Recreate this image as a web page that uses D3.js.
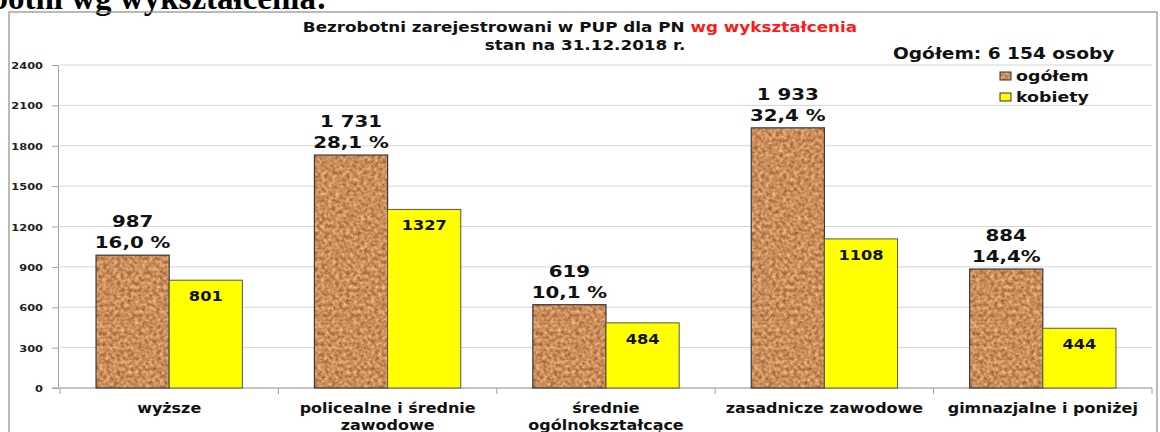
<!DOCTYPE html>
<html>
<head>
<meta charset="utf-8">
<script src="https://d3js.org/d3.v7.min.js"></script>
<style>
  body { margin: 0; background: #fff; }
  svg { display: block; }
</style>
</head>
<body>
<svg width=1160 height=432></svg>
<script>
// data
var categories = [["wyższe"], ["policealne i średnie", "zawodowe"], ["średnie", "ogólnokształcące"], ["zasadnicze zawodowe"], ["gimnazjalne i poniżej"]];
var ogolem = [987, 1731, 619, 1933, 884];
var kobiety = [801, 1327, 484, 1108, 444];
var ogolemLabels = ["987", "1 731", "619", "1 933", "884"];
var percentLabels = ["16,0 %", "28,1 %", "10,1 %", "32,4 %", "14,4%"];
var yTicks = [0, 300, 600, 900, 1200, 1500, 1800, 2100, 2400];
var seriesNames = ["ogółem", "kobiety"];

var svg = d3.select('svg');
var font = "'DejaVu Sans', Verdana, sans-serif";
var SX = 1.2; // the original picture is stretched sideways

// text helper: horizontally stretched text at (x, y)
function label(parent, x, y, size, anchor, txt) {
  return parent.append('text')
    .attr('transform', 'translate(' + x + ',' + y + ') scale(' + SX + ',1)')
    .attr('text-anchor', anchor)
    .style('font-family', font).style('font-weight', 'bold').style('font-size', size + 'px')
    .attr('fill', '#111')
    .text(txt);
}

// cork texture
var defs = svg.append('defs');
var f = defs.append('filter').attr('id', 'cork')
  .attr('x', 0).attr('y', 0).attr('width', 1).attr('height', 1)
  .attr('color-interpolation-filters', 'sRGB');
f.append('feTurbulence').attr('type', 'fractalNoise')
  .attr('baseFrequency', 0.28).attr('numOctaves', 3).attr('seed', 7).attr('result', 'noise');
f.append('feColorMatrix').attr('in', 'noise').attr('type', 'matrix')
  .attr('values', '0.55 0 0 0 0.52  0.55 0 0 0 0.28  0.45 0 0 0 0.13  0 0 0 0 1')
  .attr('result', 'col');
f.append('feComposite').attr('in', 'col').attr('in2', 'SourceGraphic').attr('operator', 'in');

// page heading cut off above the chart
svg.append('text')
  .attr('x', 327).attr('y', 9)
  .attr('text-anchor', 'end')
  .style('font-family', "'Liberation Serif', 'Times New Roman', serif")
  .style('font-weight', 'bold').style('font-size', '33px')
  .text('Bezrobotni wg wykształcenia:');

// chart frame
svg.append('rect')
  .attr('x', 9).attr('y', 12).attr('width', 1148).attr('height', 440)
  .attr('fill', 'none').attr('stroke', '#8c8c8c').attr('stroke-width', 1.2);

var x0 = d3.scaleBand().domain(d3.range(categories.length)).range([60, 1152]).paddingInner(0.33).paddingOuter(0.165);
var x1 = d3.scaleBand().domain([0, 1]).range([0, x0.bandwidth()]);
var y = d3.scaleLinear().domain([0, 2400]).range([388, 65]);

// gridlines
svg.append('g').selectAll('line').data(yTicks).enter().append('line')
  .attr('x1', 60).attr('x2', 1152)
  .attr('y1', d => y(d)).attr('y2', d => y(d))
  .attr('stroke', '#d4d4d4').attr('stroke-width', 1);

// y axis
var yAxis = svg.append('g').attr('transform', 'translate(58,0)')
  .call(d3.axisLeft(y).tickValues(yTicks).tickSize(6).tickFormat(''));
yAxis.select('.domain').attr('stroke', '#a0a0a0');
yAxis.selectAll('.tick line').attr('stroke', '#a0a0a0');
var yl = svg.append('g');
yTicks.forEach(function(t) { label(yl, 43, y(t) + 4, 9.5, 'end', t).attr('fill', '#222'); });

// x axis
var bounds = d3.range(categories.length + 1).map(i => i < categories.length ? x0(i) - x0.step() * 0.165 : 1152);
svg.append('line').attr('x1', 52).attr('x2', 1152).attr('y1', 388).attr('y2', 388).attr('stroke', '#a0a0a0');
svg.append('g').selectAll('line').data(bounds).enter().append('line')
  .attr('x1', d => d).attr('x2', d => d).attr('y1', 388).attr('y2', 394).attr('stroke', '#a0a0a0');

var xl = svg.append('g');
categories.forEach(function(lines, i) {
  lines.forEach(function(l, j) {
    label(xl, x0(i) + x0.bandwidth() / 2, 413 + j * 17, 13.3, 'middle', l);
  });
});

// bars
var g = svg.append('g').selectAll('g').data(categories).enter().append('g')
  .attr('transform', (d, i) => 'translate(' + x0(i) + ',0)');

g.append('rect')
  .attr('x', x1(0)).attr('width', x1.bandwidth())
  .attr('y', (d, i) => y(ogolem[i])).attr('height', (d, i) => y(0) - y(ogolem[i]))
  .attr('fill', '#c48a55').attr('filter', 'url(#cork)');
g.append('rect')
  .attr('x', x1(0)).attr('width', x1.bandwidth())
  .attr('y', (d, i) => y(ogolem[i])).attr('height', (d, i) => y(0) - y(ogolem[i]))
  .attr('fill', 'none').attr('stroke', '#3a3a3a').attr('stroke-width', 1.2);
g.append('rect')
  .attr('x', x1(1)).attr('width', x1.bandwidth())
  .attr('y', (d, i) => y(kobiety[i])).attr('height', (d, i) => y(0) - y(kobiety[i]))
  .attr('fill', '#ffff00').attr('stroke', '#555').attr('stroke-width', 1);

// value labels
var vl = svg.append('g');
ogolem.forEach(function(v, i) {
  var cx = x0(i) + x1(0) + x1.bandwidth() / 2;
  label(vl, cx, y(v) - 28, 16.5, 'middle', ogolemLabels[i]);
  label(vl, cx, y(v) - 7, 16.5, 'middle', percentLabels[i]);
});
kobiety.forEach(function(v, i) {
  label(vl, x0(i) + x1(1) + x1.bandwidth() / 2, y(v) + 21, 13.5, 'middle', v);
});

// title
var title = label(svg, 580, 32, 14, 'middle', '');
title.append('tspan').attr('fill', '#111').text('Bezrobotni zarejestrowani w PUP dla PN ');
title.append('tspan').attr('fill', '#ff1a1a').text('wg wykształcenia');
label(svg, 585, 50, 14, 'middle', 'stan na 31.12.2018 r.');

label(svg, 893, 59, 15.5, 'start', 'Ogółem:  6 154 osoby');

// legend
var leg = svg.append('g').selectAll('g').data(seriesNames).enter().append('g')
  .attr('transform', (d, i) => 'translate(1000,' + (72 + i * 21) + ')');
leg.append('rect').attr('width', 11).attr('height', 8)
  .attr('fill', (d, i) => i ? '#ffff00' : '#c48a55')
  .attr('filter', (d, i) => i ? null : 'url(#cork)');
leg.append('rect').attr('width', 11).attr('height', 8).attr('fill', 'none').attr('stroke', '#333');
leg.each(function(d) { label(d3.select(this), 16, 9, 14.5, 'start', d); });
</script>
</body>
</html>
